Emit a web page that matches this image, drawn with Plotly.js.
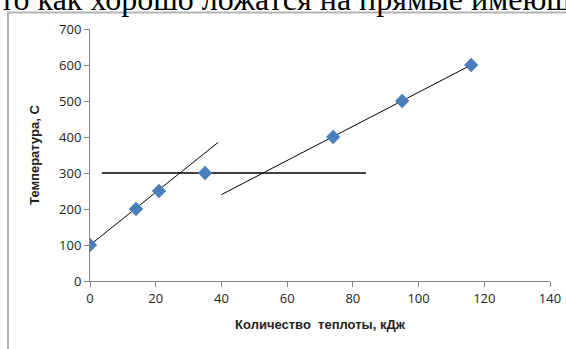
<!DOCTYPE html>
<html>
<head>
<meta charset="utf-8">
<script src="https://cdn.plot.ly/plotly-3.0.1.min.js"></script>
<style>
html,body{margin:0;padding:0;background:#fff;}
#chart{width:566px;height:349px;}
</style>
</head>
<body>
<div id="chart"></div>
<script>
// Measured points
const heatKJ = [0, 14, 21, 35, 74, 95, 116];
const tempC = [100, 200, 250, 300, 400, 500, 600];
// Hand-drawn guide lines
const fit1X = [0, 39];
const fit1Y = [100, 385];
const plateauX = [3.6, 84];
const plateauY = [300, 300];
const fit2X = [40, 116];
const fit2Y = [240, 600];
// Texts
const xTitle = "Количество  теплоты, кДж";
const yTitle = "Температура, С";
const pageText = "то как хорошо ложатся на прямые имеющ";

const px = x => (x - 90) / 460;
const py = y => (281 - y) / 252;

const lineStyle = {color: '#000', width: 1};
const traces = [
  {x: fit1X, y: fit1Y, mode: 'lines', line: lineStyle, hoverinfo: 'skip'},
  {x: plateauX, y: plateauY, mode: 'lines', line: {color: '#000', width: 1.3}, hoverinfo: 'skip'},
  {x: fit2X, y: fit2Y, mode: 'lines', line: lineStyle, hoverinfo: 'skip'},
  {x: heatKJ, y: tempC, mode: 'markers',
   marker: {symbol: 'diamond', size: 11, color: '#4a7ebb', line: {width: 0}}}
];

const axisCommon = {
  showline: true, linecolor: '#868686', linewidth: 1,
  ticks: 'outside', ticklen: 5, tickcolor: '#868686', tickwidth: 1,
  showgrid: false, zeroline: false,
  tickfont: {family: 'Open Sans, sans-serif', size: 13, color: '#222'},
  fixedrange: true
};

const layout = {
  width: 566, height: 349,
  margin: {l: 90, r: 16, t: 29, b: 68},
  paper_bgcolor: '#fff', plot_bgcolor: '#fff',
  showlegend: false,
  xaxis: Object.assign({}, axisCommon, {
    range: [0, 140], dtick: 20, tick0: 0,
    title: {text: xTitle, standoff: 14,
      font: {family: 'Liberation Sans, Arial, sans-serif', size: 13, color: '#222', weight: 'bold'}}
  }),
  yaxis: Object.assign({}, axisCommon, {
    range: [0, 700], dtick: 100, tick0: 0,
    title: {text: yTitle, standoff: 16,
      font: {family: 'Liberation Sans, Arial, sans-serif', size: 13, color: '#222', weight: 'bold'}}
  }),
  shapes: [
    {type: 'line', xref: 'paper', yref: 'paper', x0: px(8), x1: px(8), y0: py(12), y1: py(360),
     line: {color: '#b4b4b4', width: 2}},
    {type: 'line', xref: 'paper', yref: 'paper', x0: px(7), x1: px(570), y0: py(12.5), y1: py(12.5),
     line: {color: '#b4b4b4', width: 2}}
  ],
  annotations: [
    {text: pageText, xref: 'paper', yref: 'paper', x: px(-2), y: py(19),
     xanchor: 'left', yanchor: 'bottom', showarrow: false,
     font: {family: 'Liberation Serif, Times New Roman, serif', size: 32, color: '#000'}}
  ]
};

Plotly.newPlot('chart', traces, layout, {displayModeBar: false, staticPlot: true});
</script>
</body>
</html>
